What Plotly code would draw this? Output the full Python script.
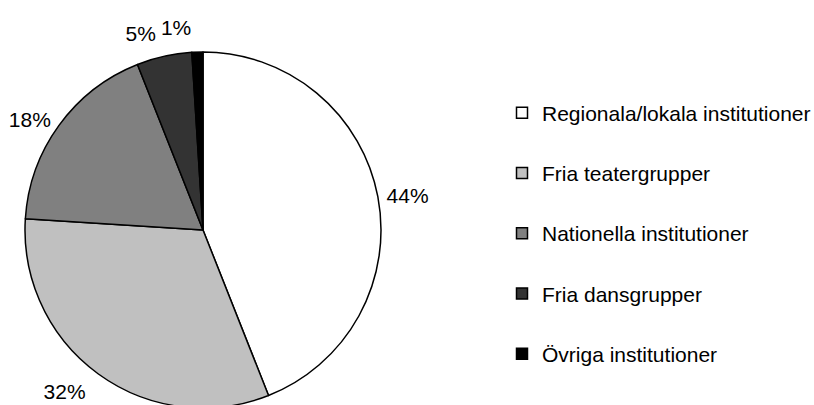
import plotly.graph_objects as go

categories = ["Regionala/lokala institutioner", "Fria teatergrupper",
              "Nationella institutioner", "Fria dansgrupper", "Övriga institutioner"]
values = [44, 32, 18, 5, 1]
colors = ["#ffffff", "#c0c0c0", "#808080", "#333333", "#000000"]

FONT = "Liberation Sans, Arial, sans-serif"
FS = 21
LABEL = "%{percent:.0%}"

# layout geometry in page pixels (page body margin removed below)
W, H = 814, 440
CX, CY, R = 203, 230, 178                   # pie centre / radius


def dom(r):
    return dict(x=[(CX - r) / W, (CX + r) / W],
                y=[1 - (CY + r) / H, 1 - (CY - r) / H])


# percentage labels are drawn by invisible copies of the pie whose radius
# sets how far outside the pie each label sits: (slice indices, radius)
label_rings = [((1, 3), 190), ((0, 2), 181), ((4,), 191)]

fig = go.Figure()
fig.add_trace(go.Pie(
    labels=categories, values=values, sort=False, direction="clockwise",
    rotation=0, marker=dict(colors=colors, line=dict(color="#000000", width=1.5)),
    textinfo="none", showlegend=False, hoverinfo="label+percent",
    domain=dom(R),
))
for idx, rr in label_rings:
    texts = [LABEL if k in idx else "" for k in range(len(values))]
    fig.add_trace(go.Pie(
        labels=categories, values=values, sort=False, direction="clockwise",
        rotation=0, marker=dict(colors=["rgba(0,0,0,0)"] * len(values),
                                line=dict(color="rgba(0,0,0,0)", width=0)),
        texttemplate=texts, textposition="outside",
        textfont=dict(size=FS, color="#000000", family=FONT),
        showlegend=False, hoverinfo="skip",
        domain=dom(rr),
    ))

for i, (c, col) in enumerate(zip(categories, colors)):
    fig.add_trace(go.Scatter(
        x=[None], y=[None], mode="markers", name=c, legendgroup=f"g{i}",
        marker=dict(symbol="square", size=11, color=col,
                    line=dict(color="#000000", width=1.5)),
        showlegend=True, hoverinfo="skip",
    ))

fig.update_layout(
    width=W, height=H,
    margin=dict(l=0, r=0, t=0, b=0, autoexpand=False),
    paper_bgcolor="#ffffff", plot_bgcolor="#ffffff",
    font=dict(family=FONT, size=FS, color="#000000"),
    xaxis=dict(visible=False), yaxis=dict(visible=False),
    legend=dict(x=502 / W, xanchor="left",
                y=1 - 92.5 / H, yanchor="top",
                traceorder="grouped", tracegroupgap=30,
                font=dict(size=FS, family=FONT, color="#000000"),
                bgcolor="rgba(0,0,0,0)"),
)

fig.write_html(
    "out.html",
    config={"displayModeBar": False},
    post_script="document.body.style.margin='0';"
                "document.documentElement.style.overflow='hidden';"
                "document.body.style.overflow='hidden';",
)
